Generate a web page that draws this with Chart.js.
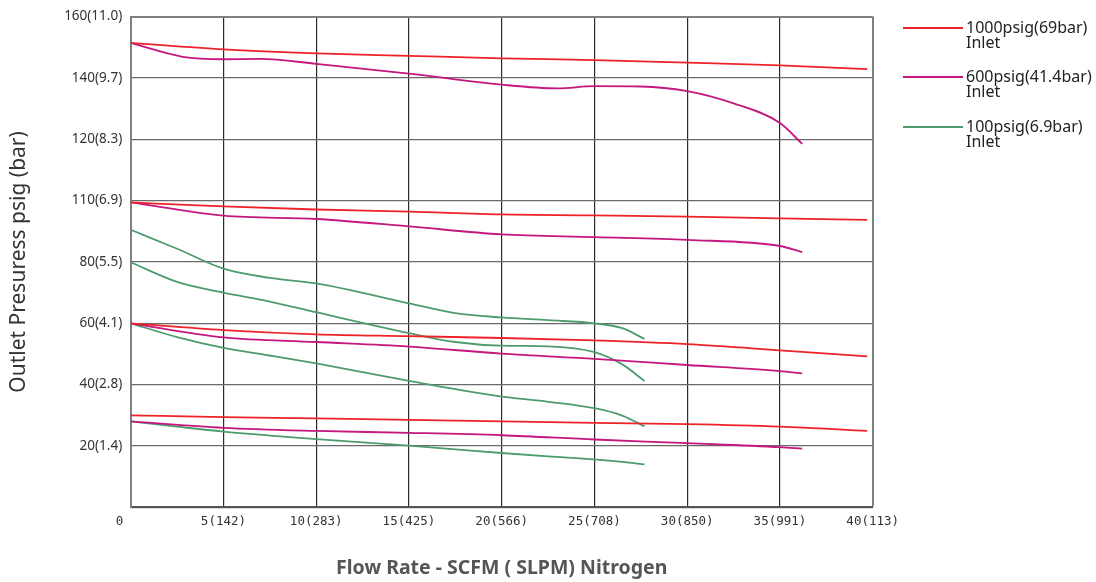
<!DOCTYPE html>
<html>
<head>
<meta charset="utf-8">
<script src="https://cdn.jsdelivr.net/npm/chart.js@4/dist/chart.umd.min.js"></script>
<style>
  html, body { margin: 0; padding: 0; background: #fff; }
  #wrap { position: relative; width: 1096px; height: 582px; }
  #chart { position: absolute; left: 0; top: 0; }
  .leg { position: absolute; left: 903px; font-family: "Noto Sans", sans-serif; font-size: 16px; line-height: 15px; color: #222; }
  .leg .ln { position: absolute; left: 0; width: 60px; height: 2px; }
  .leg .tx { position: absolute; left: 63px; white-space: nowrap; }
</style>
</head>
<body>
<div id="wrap">
  <canvas id="chart" width="1096" height="582"></canvas>
  <div id="legend"></div>
</div>
<script>
// flow rate (SCFM) positions for each family of curves
const flowRed = [0, 5, 10, 15, 20, 25, 30, 35, 39.7];
const flowMag = [0, 5, 10, 15, 20, 25, 30, 35, 36.2];
const flowMagTop = [0, 2.8, 5, 7, 10, 15, 20, 23, 25, 27.5, 30, 32.5, 35, 36.2];
const flowGreen = [0, 2.5, 5, 7.5, 10, 15, 17.5, 20, 22.5, 25, 26.5, 27.7];

// 1000psig inlet
const red150 = [151.4, 149.3, 148.0, 147.2, 146.4, 145.8, 145.0, 144.1, 142.9];
const red100 = [99.4, 98.1, 97.1, 96.4, 95.5, 95.2, 94.8, 94.2, 93.7];
const red60 = [60.0, 57.8, 56.4, 55.8, 55.2, 54.4, 53.2, 51.2, 49.2];
const red30 = [30.0, 29.4, 29.0, 28.5, 28.0, 27.5, 27.1, 26.3, 24.9];

// 600psig inlet
const mag150 = [151.4, 146.9, 146.1, 146.2, 144.6, 141.4, 137.8, 136.6, 137.3, 137.2, 135.7, 131.7, 125.3, 118.5];
const mag100 = [99.4, 95.1, 94.0, 91.6, 89.0, 88.1, 87.2, 85.2, 83.2];
const mag60 = [60.0, 55.4, 53.9, 52.4, 50.1, 48.4, 46.4, 44.4, 43.7];
const mag28 = [28.0, 25.9, 24.9, 24.3, 23.5, 22.1, 20.9, 19.6, 19.1];

// 100psig inlet
const green90 = [90.5, 84.3, 77.8, 74.8, 73.0, 66.5, 63.3, 61.9, 61.0, 60.0, 58.4, 54.9];
const green80 = [79.9, 73.5, 70.0, 67.1, 63.6, 56.8, 53.9, 52.7, 52.5, 50.6, 46.6, 41.2];
const green60 = [60.0, 55.5, 52.0, 49.5, 46.9, 41.2, 38.5, 36.1, 34.4, 32.3, 29.9, 26.4];
const green28 = [28.0, 26.3, 24.7, 23.4, 22.2, 20.1, 18.9, 17.7, 16.6, 15.6, 14.8, 14.0];

const yTickLabels = { 160: '160(11.0)', 140: '140(9.7)', 120: '120(8.3)', 100: '110(6.9)', 80: '80(5.5)', 60: '60(4.1)', 40: '40(2.8)', 20: '20(1.4)', 0: '' };
const xTickLabels = { 0: '0   ', 5: '5(142)', 10: '10(283)', 15: '15(425)', 20: '20(566)', 25: '25(708)', 30: '30(850)', 35: '35(991)', 40: '40(113)' };

const seriesNames = ['1000psig(69bar)', '600psig(41.4bar)', '100psig(6.9bar)'];
const colors = ['#ee2229', '#c4177f', '#4e9c6e'];

function pts(xs, ys) {
    return xs.map((x, i) => ({ x, y: ys[i] }));
}

const groups = [
    { color: colors[0], curves: [[flowRed, red150], [flowRed, red100], [flowRed, red60], [flowRed, red30]] },
    { color: colors[1], curves: [[flowMagTop, mag150], [flowMag, mag100], [flowMag, mag60], [flowMag, mag28]] },
    { color: colors[2], curves: [[flowGreen, green90], [flowGreen, green80], [flowGreen, green60], [flowGreen, green28]] },
];

const datasets = [];
groups.forEach((g, gi) => {
    g.curves.forEach(c => {
        datasets.push({
            label: seriesNames[gi],
            data: pts(c[0], c[1]),
            borderColor: g.color,
            borderWidth: 1.8,
            pointRadius: 0,
            fill: false,
            tension: 0.4,
            cubicInterpolationMode: 'monotone',
        });
    });
});

new Chart(document.getElementById('chart'), {
    type: 'line',
    data: { datasets },
    options: {
        responsive: false,
        animation: false,
        layout: { padding: { left: 0, top: 12.7, right: 223.3, bottom: 0 } },
        plugins: { legend: { display: false }, tooltip: { enabled: false } },
        scales: {
            x: {
                type: 'linear',
                min: 0,
                max: 40,
                ticks: {
                    stepSize: 5,
                    padding: 7,
                    color: '#333',
                    font: { family: 'DejaVu Sans Mono', size: 12.5 },
                    callback: v => xTickLabels[v] ?? '',
                },
                grid: {
                    drawTicks: false,
                    color: ctx => (ctx.tick && ctx.tick.value === 40) ? '#808080' : '#2b2b2b',
                    lineWidth: ctx => (ctx.tick && ctx.tick.value === 40) ? 2 : 1.2,
                },
                border: { color: '#555', width: 2 },
                title: {
                    display: true,
                    text: 'Flow Rate - SCFM ( SLPM) Nitrogen',
                    color: '#555',
                    font: { family: 'Noto Sans', size: 19.5, weight: 'bold' },
                    padding: { top: 0, bottom: 2.3 },
                },
                afterFit: s => { s.height = 74.7; },
            },
            y: {
                min: 0,
                max: 160,
                ticks: {
                    stepSize: 20,
                    padding: 8.5,
                    color: '#333',
                    font: { family: 'Noto Sans', size: 13.5 },
                    callback: v => yTickLabels[v] ?? '',
                },
                grid: {
                    drawTicks: false,
                    color: ctx => (ctx.tick && ctx.tick.value === 160) ? '#808080' : '#6a6a6a',
                    lineWidth: ctx => (ctx.tick && ctx.tick.value === 160) ? 2 : 1.3,
                },
                border: { color: '#808080', width: 2 },
                title: {
                    display: true,
                    text: 'Outlet Presuress psig (bar)',
                    color: '#333',
                    font: { family: 'Noto Sans', size: 21 },
                    padding: { top: 6, bottom: 0 },
                },
                afterFit: s => { s.width = 130.7; },
            },
        },
    },
});

// two-line legend entries on the right
const legendTops = [27.5, 77, 126.5];
const legend = document.getElementById('legend');
seriesNames.forEach((name, i) => {
    const d = document.createElement('div');
    d.className = 'leg';
    d.style.top = (legendTops[i] - 8) + 'px';
    d.innerHTML = '<div class="ln" style="top:7px;background:' + colors[i] + '"></div>' +
        '<div class="tx">' + name + '<br>Inlet</div>';
    legend.appendChild(d);
});
</script>
</body>
</html>
